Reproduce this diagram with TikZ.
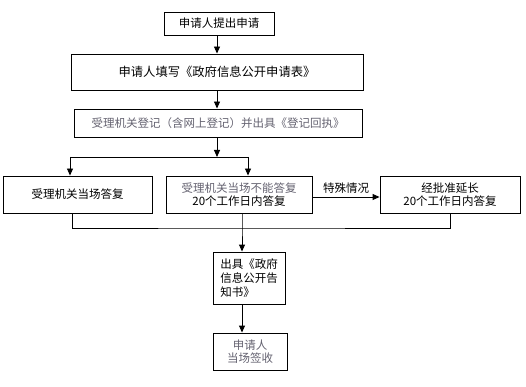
\documentclass[tikz,border=0pt]{standalone}
\usepackage{fontspec}
\setmainfont{Noto Sans CJK SC}
\usetikzlibrary{arrows.meta}
\definecolor{dimtext}{RGB}{100,98,112}

\begin{document}
\begin{tikzpicture}[x=1pt,y=-1pt,line width=0.9pt,
  >={Triangle[length=7pt,width=6pt]},
  font=\fontsize{11.5}{13}\selectfont,
  stepbox/.style={draw,inner sep=0pt,align=center}]
  \useasboundingbox (0,0) rectangle (526,387);

  \node[stepbox,minimum width=110,minimum height=23] (tichu) at (219,23.5) {申请人提出申请};
  \node[stepbox,minimum width=292,minimum height=36,font=\fontsize{12.3}{14}\selectfont] (tianxie) at (217,72)
    {申请人填写《政府信息公开申请表》};
  \node[stepbox,minimum width=288,minimum height=28,text=dimtext] (dengji) at (218,123)
    {受理机关登记（含网上登记）并出具《登记回执》};
  \node[stepbox,minimum width=149,minimum height=37] (dangchang) at (77.5,194.5) {受理机关当场答复};
  \node[stepbox,minimum width=146,minimum height=37] (buneng) at (239,194.5)
    {{\color{dimtext}受理机关当场不能答复}\\20个工作日内答复};
  \node[stepbox,minimum width=140,minimum height=37] (yanchang) at (450,194.5)
    {经批准延长\\20个工作日内答复};
  \node[stepbox,minimum width=72,minimum height=52,align=left,
    font=\fontsize{11.5}{14}\selectfont] (gaozhi) at (249,278)
    {出具《政府\\信息公开告\\知书》};
  \node[stepbox,minimum width=74,minimum height=37,text=dimtext] (qianshou) at (250,351.5)
    {申请人\\当场签收};

  \coordinate (fork) at (217,157);
  \coordinate (merge) at (242,228);

  \draw[->] (tichu.south -| tianxie.north) -- (tianxie.north);
  \draw[->] (tianxie.south) -- (tianxie.south |- dengji.north);
  \draw[->] (dengji.south -| fork) -- (fork);
  \draw[->] ([xshift=-7.5]dangchang.north |- fork) -- ([xshift=-7.5]dangchang.north);
  \draw ([xshift=-7.5]dangchang.north |- fork) -- ([xshift=9]buneng.north |- fork);
  \draw[->] ([xshift=9]buneng.north |- fork) -- ([xshift=9]buneng.north);
  \draw[->] (buneng.east |- 0,197) -- node[above] {特殊情况} (yanchang.west |- 0,197);

  \draw ([xshift=-5.5]dangchang.south) |- (merge) -| (yanchang.south);
  \draw[->] (buneng.south -| merge) -- (merge) -- (merge |- gaozhi.north);
  \draw[->] (gaozhi.south -| merge) -- (merge |- qianshou.north);
\end{tikzpicture}
\end{document}
